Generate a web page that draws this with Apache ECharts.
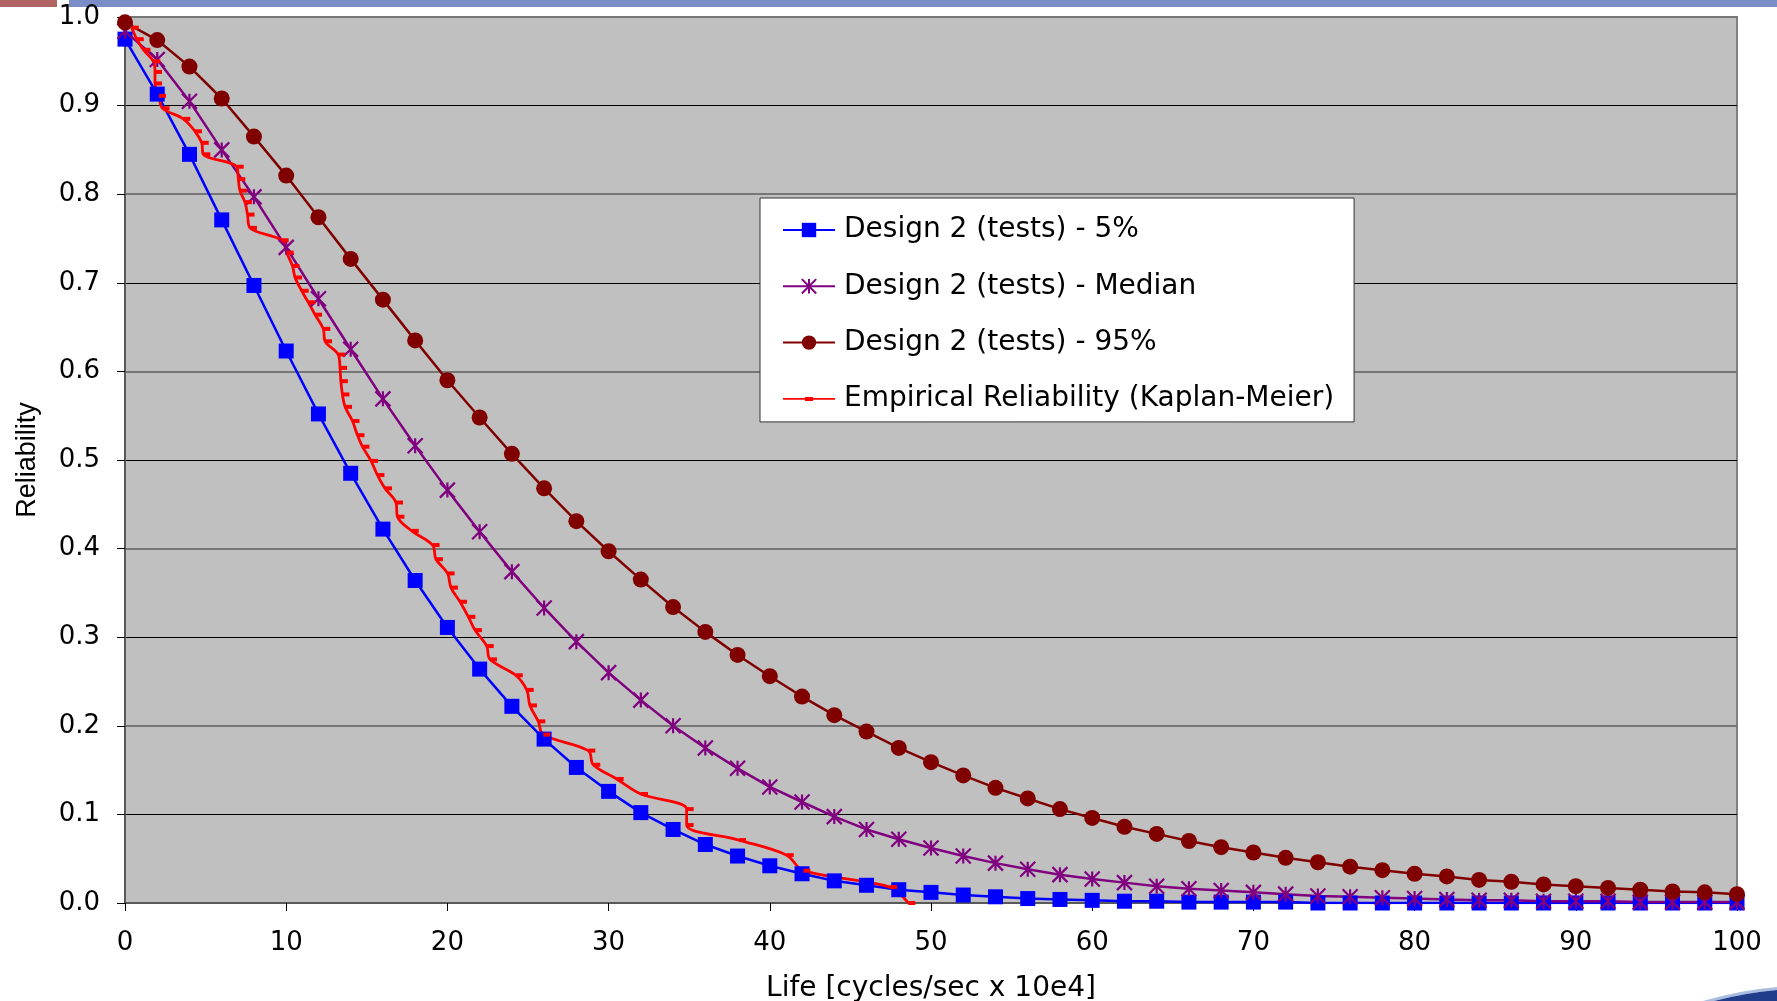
<!DOCTYPE html>
<html><head><meta charset="utf-8">
<script src="https://cdn.jsdelivr.net/npm/echarts/dist/echarts.min.js"></script>
<style>html,body{margin:0;padding:0;background:#fff;overflow:hidden}#c{width:1777px;height:1001px}</style>
</head><body><div id="c"></div><script>
// ---- data ----
const seriesNames = ['Design 2 (tests) - 5%', 'Design 2 (tests) - Median', 'Design 2 (tests) - 95%', 'Empirical Reliability (Kaplan-Meier)'];
const lifeGrid = [0,2,4,6,8,10,12,14,16,18,20,22,24,26,28,30,32,34,36,38,40,42,44,46,48,50,52,54,56,58,60,62,64,66,68,70,72,74,76,78,80,82,84,86,88,90,92,94,96,98,100];
const rel5 = [0.975,0.913,0.845,0.771,0.697,0.623,0.552,0.485,0.422,0.364,0.311,0.264,0.222,0.185,0.153,0.126,0.102,0.083,0.066,0.053,0.042,0.033,0.025,0.020,0.015,0.012,0.009,0.007,0.005,0.004,0.003,0.002,0.002,0.001,0.001,0.001,0.001,0,0,0,0,0,0,0,0,0,0,0,0,0,0];
const relMedian = [0.984,0.952,0.905,0.850,0.797,0.740,0.682,0.625,0.569,0.516,0.466,0.419,0.374,0.333,0.295,0.260,0.229,0.200,0.175,0.152,0.131,0.114,0.0975,0.083,0.072,0.062,0.053,0.045,0.038,0.032,0.027,0.023,0.019,0.016,0.014,0.012,0.010,0.008,0.007,0.006,0.005,0.004,0.003,0.003,0.002,0.002,0.002,0.001,0.001,0.001,0.001];
const rel95 = [0.994,0.974,0.944,0.908,0.865,0.821,0.774,0.727,0.681,0.635,0.590,0.548,0.507,0.468,0.431,0.397,0.365,0.334,0.306,0.280,0.256,0.233,0.212,0.1935,0.175,0.159,0.144,0.130,0.118,0.106,0.096,0.086,0.078,0.070,0.063,0.057,0.051,0.046,0.041,0.037,0.033,0.030,0.026,0.024,0.021,0.019,0.017,0.015,0.013,0.012,0.010];
const kmLife = [0.42,0.73,1.14,1.76,1.86,1.86,2.11,2.33,3.62,4.34,4.76,4.86,6.93,7.03,7.13,7.44,7.60,7.75,9.72,10.03,10.39,10.55,10.96,11.37,11.79,12.30,12.41,13.23,13.34,13.39,13.49,13.65,14.11,14.42,14.73,15.26,15.66,16.13,16.81,16.90,17.79,19.08,19.29,20.01,20.22,20.78,21.30,21.71,22.44,22.64,24.24,24.92,25.12,25.64,25.95,28.74,29.05,30.50,32.01,34.84,34.84,38.09,41.05,42.08,47.46,48.59];
const kmRel = [0.988,0.975,0.963,0.950,0.938,0.925,0.911,0.897,0.885,0.871,0.858,0.845,0.831,0.817,0.804,0.791,0.777,0.762,0.748,0.734,0.719,0.706,0.691,0.678,0.664,0.648,0.634,0.619,0.604,0.589,0.574,0.560,0.544,0.528,0.515,0.499,0.483,0.468,0.452,0.436,0.420,0.404,0.388,0.372,0.356,0.340,0.323,0.308,0.290,0.275,0.257,0.2405,0.223,0.205,0.190,0.172,0.156,0.140,0.123,0.106,0.088,0.071,0.054,0.0365,0.018,0.0];
const xAxisTitle = 'Life [cycles/sec x 10e4]';
const yAxisTitle = 'Reliability';

// ---- chart ----
const pair = (xs, ys) => xs.map((x, i) => [x, ys[i]]);
const chart = echarts.init(document.getElementById('c'), null, {renderer: 'canvas'});
const AXFONT = 'DejaVu Sans';
const TXFONT = 'Liberation Sans, Arial, sans-serif';
const kmIcon = 'path://M0,0h0.05v0.05h-0.05z M51.95,17.95h0.05v0.05h-0.05z M0,8.2h52v1.6H0z M22,7h8v4h-8z';
const yCommon = {type: 'value', min: 0, max: 1, interval: 0.1};
chart.setOption({
  animation: false,
  backgroundColor: '#ffffff',
  grid: {left: 125, right: 40, top: 17, bottom: 98, outerBoundsMode: 'none', containLabel: false,
         show: true, backgroundColor: '#C0C0C0', borderColor: '#808080', borderWidth: 2},
  xAxis: {
    type: 'value', min: 0, max: 100, interval: 10,
    name: xAxisTitle, nameLocation: 'middle', nameGap: 72,
    nameTextStyle: {fontFamily: AXFONT, fontSize: 28, color: '#000'},
    axisLine: {show: true, onZero: false, lineStyle: {color: '#595959', width: 2}},
    axisTick: {show: true, length: 8, lineStyle: {color: '#000', width: 1}},
    axisLabel: {fontFamily: AXFONT, fontSize: 26, color: '#000', margin: 27},
    splitLine: {show: false}
  },
  yAxis: [
    Object.assign({}, yCommon, {
      name: yAxisTitle, nameLocation: 'middle', nameGap: 84, nameRotate: 90,
      nameTextStyle: {fontFamily: TXFONT, fontSize: 27, color: '#000'},
      axisLine: {show: true, lineStyle: {color: '#595959', width: 2}},
      axisTick: {show: true, length: 8, lineStyle: {color: '#000', width: 1}},
      axisLabel: {fontFamily: AXFONT, fontSize: 26, color: '#000', margin: 25, formatter: v => v.toFixed(1)},
      splitLine: {show: true, lineStyle: {color: ['rgba(0,0,0,0)', '#000000'], width: 1}}
    }),
    Object.assign({}, yCommon, {
      position: 'left',
      axisLine: {show: false}, axisTick: {show: false}, axisLabel: {show: false},
      splitLine: {show: true, lineStyle: {color: ['#767676', 'rgba(0,0,0,0)'], width: 2}}
    })
  ],
  legend: {
    orient: 'vertical', left: 760, top: 198,
    padding: [18, 20, 9, 22], itemGap: 28.3, itemWidth: 52, itemHeight: 18,
    backgroundColor: '#ffffff', borderColor: '#333333', borderWidth: 1, borderRadius: 0,
    textStyle: {fontFamily: AXFONT, fontSize: 28, color: '#000', padding: [0, 0, 0, 4]},
    data: [
      {name: seriesNames[0]}, {name: seriesNames[1]}, {name: seriesNames[2]},
      {name: seriesNames[3], icon: kmIcon}
    ]
  },
  series: [
    {
      name: seriesNames[0], type: 'line', data: pair(lifeGrid, rel5),
      color: '#0000FF', symbol: 'rect', symbolSize: 15,
      lineStyle: {color: '#0000FF', width: 2.5},
      itemStyle: {color: '#0000FF'}
    },
    {
      name: seriesNames[1], type: 'line', data: pair(lifeGrid, relMedian),
      color: '#800080', symbol: 'path://M0,0L10,10M10,0L0,10M5,0L5,10', symbolSize: 15,
      lineStyle: {color: '#800080', width: 2.5},
      itemStyle: {color: '#800080', borderColor: '#800080', borderWidth: 2.2}
    },
    {
      name: seriesNames[2], type: 'line', data: pair(lifeGrid, rel95),
      color: '#800000', symbol: 'circle', symbolSize: 16,
      lineStyle: {color: '#800000', width: 2.5},
      itemStyle: {color: '#800000'}
    },
    {
      name: seriesNames[3], type: 'line', data: pair(kmLife, kmRel),
      color: '#FF0000', symbol: 'rect', symbolSize: [7, 4], symbolOffset: [3.5, 0],
      smooth: 0.35,
      lineStyle: {color: '#FF0000', width: 2.8},
      itemStyle: {color: '#FF0000'}
    }
  ],
  graphic: [
    {type: 'rect', left: 0, top: 0, shape: {width: 57, height: 7}, style: {fill: '#B06464'}},
    {type: 'rect', left: 69, top: 0, shape: {width: 1708, height: 7}, style: {fill: '#7A8DC6'}},
    {type: 'circle', shape: {cx: 1810, cy: 1362, r: 375}, style: {fill: 'none', stroke: '#a9bde0', lineWidth: 3}},
    {type: 'circle', shape: {cx: 1810, cy: 1362, r: 367}, style: {fill: '#e8edf5', stroke: '#203c8a', lineWidth: 13}}
  ]
});
</script></body></html>
